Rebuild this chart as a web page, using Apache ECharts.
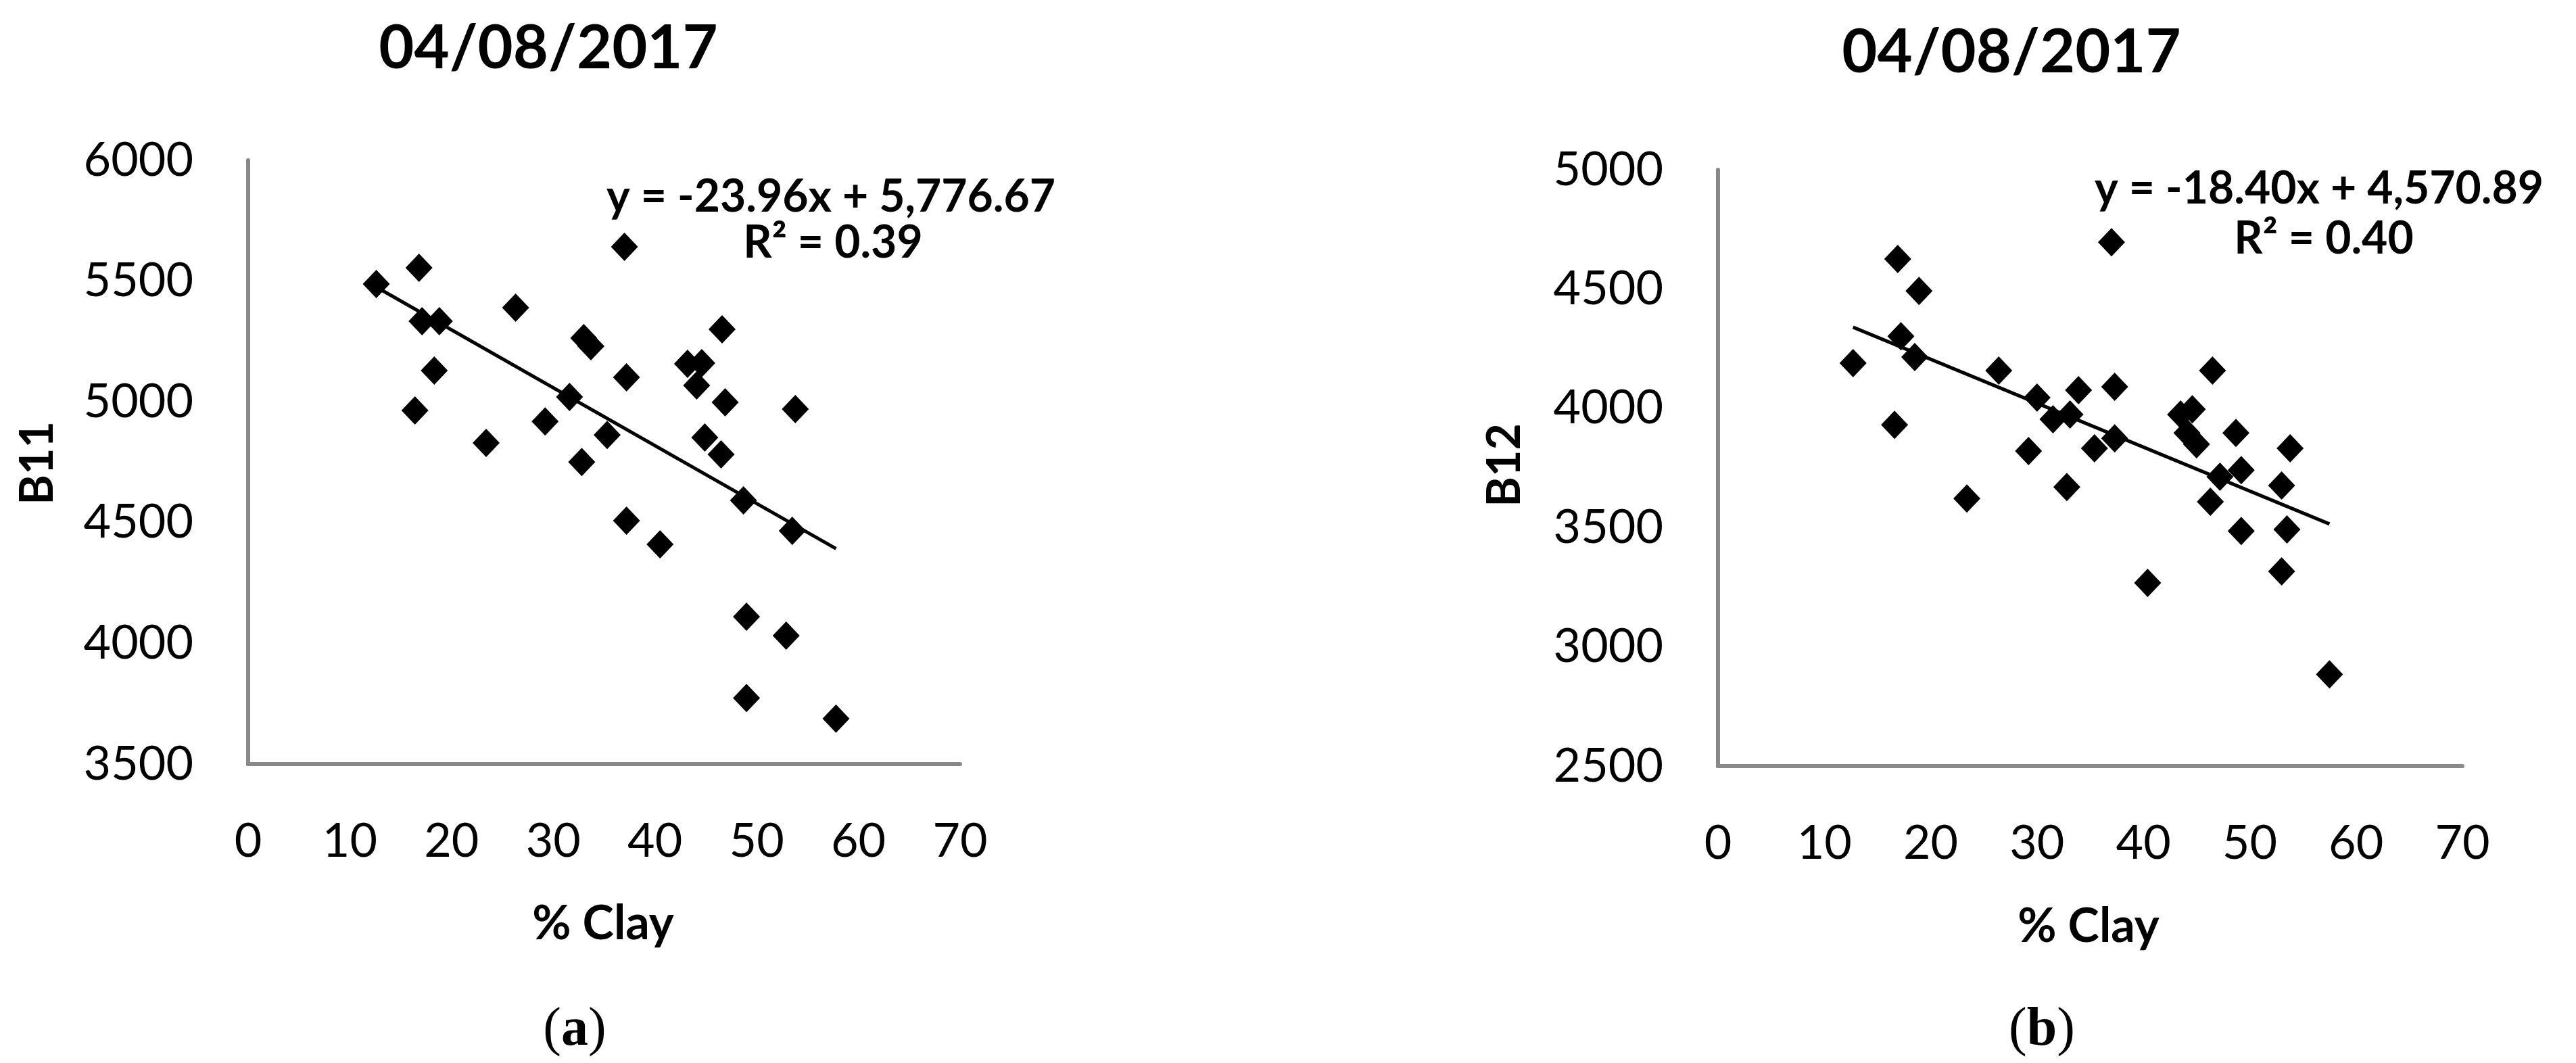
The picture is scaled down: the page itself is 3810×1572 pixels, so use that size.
<!DOCTYPE html>
<html>
<head>
<meta charset="utf-8">
<script src="https://cdn.jsdelivr.net/npm/echarts@6/dist/echarts.min.js"></script>
<style>
  html, body { margin: 0; padding: 0; background: #fff; }
  #chart { width: 3810px; height: 1572px; }
</style>
</head>
<body>
<div id="chart"></div>
<script>
// B11 panel (a)
const clayB11 = [12.6, 16.4, 16.8, 17.1, 18.3, 18.8, 23.4, 26.3, 29.2, 31.6, 32.8, 33.0, 33.7, 35.3, 37.0, 37.2,
  37.2, 40.5, 43.2, 44.1, 44.6, 44.9, 46.5, 46.6, 46.9, 48.7, 49.0, 49.0, 52.9, 53.5, 53.8, 57.8];
const b11 = [5488, 4964, 5555, 5334, 5129, 5334, 4830, 5390, 4919, 5020, 4751, 5264, 5230, 4863, 5642, 5101,
  4508, 4410, 5157, 5068, 5160, 4852, 4782, 5300, 4998, 4592, 4110, 3774, 4032, 4466, 4970, 3688];
const trendB11 = [[12.6, 5475], [57.8, 4392]];

// B12 panel (b)
const clayB12 = [12.7, 16.6, 16.9, 17.2, 18.5, 18.9, 23.4, 26.4, 29.2, 30.0, 31.5, 32.8, 33.1, 33.9, 35.4, 37.0, 37.3,
  37.3, 40.4, 43.5, 44.1, 44.6, 45.0, 46.3, 46.5, 47.2, 48.7, 49.2, 49.2, 53.0, 53.0, 53.5, 53.8, 57.5];
const b12 = [4189, 3931, 4626, 4302, 4215, 4492, 3622, 4158, 3821, 4045, 3954, 3670, 3974, 4076, 3832, 4696, 4090,
  3874, 3268, 3974, 3897, 3996, 3849, 3608, 4158, 3713, 3897, 3741, 3486, 3676, 3316, 3492, 3832, 2885];
const trendB12 = [[12.7, 4340], [57.5, 3515]];

const titles = ["04/08/2017", "04/08/2017"];
const yNames = ["B11", "B12"];
const xName = "% Clay";
const equations = ["y = -23.96x + 5,776.67", "y = -18.40x + 4,570.89"];
const r2Texts = ["R² = 0.39", "R² = 0.40"];
const captions = ["a", "b"];

const FONT = 'Lato, "Open Sans", sans-serif';
const SERIF = '"Liberation Serif", "DejaVu Serif", serif';
const AXIS_GRAY = "#898989";

const myChart = echarts.init(document.getElementById("chart"), null, { renderer: "canvas" });

function xAxisOpt(gridIndex) {
  return {
    gridIndex: gridIndex,
    type: "value",
    min: 0,
    max: 70,
    interval: 10,
    axisLine: { show: true, lineStyle: { color: AXIS_GRAY, width: 6 } },
    axisTick: { show: false },
    splitLine: { show: false },
    axisLabel: { fontFamily: FONT, fontSize: 70, color: "#000", margin: 79 },
  };
}
function yAxisOpt(gridIndex, min, max) {
  return {
    gridIndex: gridIndex,
    type: "value",
    min: min,
    max: max,
    interval: 500,
    axisLine: { show: true, lineStyle: { color: AXIS_GRAY, width: 6 } },
    axisTick: { show: false },
    splitLine: { show: false },
    axisLabel: {
      fontFamily: FONT,
      fontSize: 70,
      color: "#000",
      margin: 81,
      formatter: (v) => String(v), // 不要千位分隔符
    },
  };
}

function label(text, x, y, size, bold, extra) {
  return Object.assign({
    type: "text",
    x: x,
    y: y,
    style: {
      text: text,
      fontFamily: FONT,
      fontSize: size,
      fontWeight: bold ? "bold" : "normal",
      fill: "#000",
      align: "center",
      verticalAlign: "middle",
    },
  }, extra || {});
}

function caption(letter, x, y) {
  return {
    type: "text",
    x: x,
    y: y,
    style: {
      text: "({b|" + letter + "})",
      fontFamily: SERIF,
      fontSize: 80,
      fill: "#000",
      align: "center",
      verticalAlign: "middle",
      rich: {
        b: { fontFamily: SERIF, fontSize: 80, fontWeight: "bold", fill: "#000" },
      },
    },
  };
}

const diamond = { color: "#000", opacity: 1 };

myChart.setOption({
  animation: false,
  backgroundColor: "#fff",
  grid: [
    { left: 367, top: 237, width: 1053, height: 893 },
    { left: 2541, top: 251, width: 1101, height: 882 },
  ],
  xAxis: [xAxisOpt(0), xAxisOpt(1)],
  yAxis: [yAxisOpt(0, 3500, 6000), yAxisOpt(1, 2500, 5000)],
  series: [
    {
      name: "B11",
      type: "scatter",
      xAxisIndex: 0,
      yAxisIndex: 0,
      symbol: "diamond",
      symbolSize: [40, 42],
      itemStyle: diamond,
      data: clayB11.map((c, i) => [c, b11[i]]),
      z: 3,
    },
    {
      name: "B11 trend",
      type: "line",
      xAxisIndex: 0,
      yAxisIndex: 0,
      symbol: "none",
      lineStyle: { color: "#000", width: 5 },
      data: trendB11,
      z: 4,
    },
    {
      name: "B12",
      type: "scatter",
      xAxisIndex: 1,
      yAxisIndex: 1,
      symbol: "diamond",
      symbolSize: [40, 42],
      itemStyle: diamond,
      data: clayB12.map((c, i) => [c, b12[i]]),
      z: 3,
    },
    {
      name: "B12 trend",
      type: "line",
      xAxisIndex: 1,
      yAxisIndex: 1,
      symbol: "none",
      lineStyle: { color: "#000", width: 5 },
      data: trendB12,
      z: 4,
    },
  ],
  graphic: [
    // 标题
    label(titles[0], 811, 72, 90, true),
    label(titles[1], 2975, 78, 90, true),
    // 回归方程
    label(equations[0], 1229, 292, 66, true),
    label(r2Texts[0], 1232, 360, 66, true),
    label(equations[1], 3430, 280, 66, true),
    label(r2Texts[1], 3437, 354, 66, true),
    // 坐标轴名称
    label(yNames[0], 56, 685, 68, true, { rotation: Math.PI / 2 }),
    label(yNames[1], 2226, 688, 68, true, { rotation: Math.PI / 2 }),
    label(xName, 892, 1366, 70, true),
    label(xName, 3089, 1370, 70, true),
    caption(captions[0], 850, 1524),
    caption(captions[1], 3020, 1524),
  ],
});
</script>
</body>
</html>
